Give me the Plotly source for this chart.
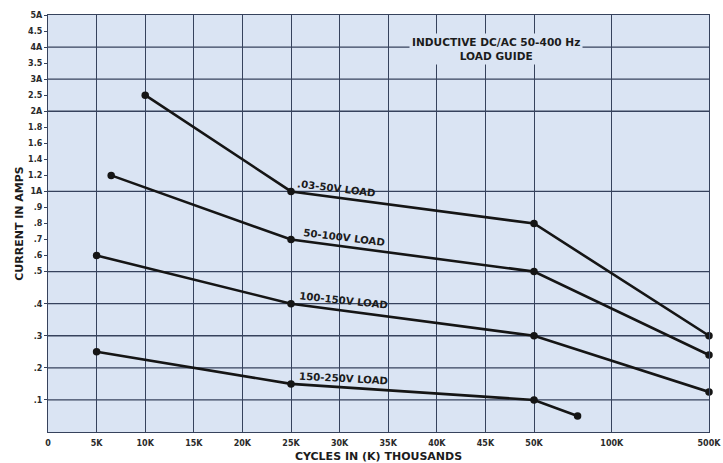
import numpy as np
import plotly.graph_objects as go

# ---- data ----
SERIES_NAMES = [".03-50V LOAD", "50-100V LOAD", "100-150V LOAD", "150-250V LOAD"]
S1_X = [10000, 25000, 50000, 500000]
S1_Y = [2.5, 1.0, 0.8, 0.3]
S2_X = [6500, 25000, 50000, 500000]
S2_Y = [1.2, 0.7, 0.5, 0.24]
S3_X = [5000, 25000, 50000, 500000]
S3_Y = [0.6, 0.4, 0.3, 0.125]
S4_X = [5000, 25000, 50000, 78000]
S4_Y = [0.25, 0.15, 0.1, 0.05]

X_TICK_VALS = [0, 5000, 10000, 15000, 20000, 25000, 30000, 35000, 40000, 45000, 50000, 100000, 500000]
X_TICK_TEXT = ["0", "5K", "10K", "15K", "20K", "25K", "30K", "35K", "40K", "45K", "50K", "100K", "500K"]
Y_TICK_VALS = [0.1, 0.2, 0.3, 0.4, 0.5, 0.6, 0.7, 0.8, 0.9, 1.0, 1.2, 1.4, 1.6, 1.8, 2.0, 2.5, 3.0, 3.5, 4.0, 4.5, 5.0]
Y_TICK_TEXT = [".1", ".2", ".3", ".4", ".5", ".6", ".7", ".8", ".9", "1A", "1.2", "1.4", "1.6", "1.8", "2A", "2.5", "3A", "3.5", "4A", "4.5", "5A"]
Y_GRID = [0.1, 0.2, 0.3, 0.4, 0.5, 1.0, 2.0, 3.0, 4.0]

# ---- piecewise scales (as printed on the chart paper) ----
XB_VAL = [0, 50000, 100000, 500000]
XB_POS = [0, 10, 11.6, 13.6]
YB_VAL = [0, 0.5, 0.6, 0.7, 0.8, 0.9, 1.0, 1.2, 1.4, 1.6, 1.8, 2.0, 2.5, 3.0, 3.5, 4.0, 4.5, 5.0]
YB_POS = [0, 10, 11, 12, 13, 14, 15, 16, 17, 18, 19, 20, 21, 22, 23, 24, 25, 26]

def xp(v):
    return np.interp(v, XB_VAL, XB_POS)

def yp(v):
    return np.interp(v, YB_VAL, YB_POS)

PLOT_BG = "#dae4f3"
GRID_C = "#36425c"
INK = "#1c1c1c"
FONT = "DejaVu Sans, Liberation Sans, sans-serif"

fig = go.Figure()
for xs, ys, name in zip([S1_X, S2_X, S3_X, S4_X], [S1_Y, S2_Y, S3_Y, S4_Y], SERIES_NAMES):
    fig.add_trace(go.Scatter(
        x=xp(xs), y=yp(ys), mode="lines+markers", name=name,
        line=dict(color="#151515", width=2.6),
        marker=dict(color="#151515", size=7.5),
        showlegend=False, hoverinfo="skip", cliponaxis=False,
    ))

for g in Y_GRID:
    fig.add_hline(y=float(yp(g)), line=dict(color=GRID_C, width=1.3), layer="below")

# curve labels: (x value, y axis position, angle)
LABELS = [
    (SERIES_NAMES[0], 29700, 15.2, 7),
    (SERIES_NAMES[1], 30400, 12.1, 7),
    (SERIES_NAMES[2], 30400, 8.2, 6),
    (SERIES_NAMES[3], 30400, 3.35, 3),
]
for txt, xv, ypos, ang in LABELS:
    fig.add_annotation(x=float(xp(xv)), y=ypos, text=txt, showarrow=False,
                       textangle=ang,
                       font=dict(family=FONT, size=10.2, color=INK, weight="bold"))

fig.add_annotation(x=float(xp(46100)), y=23.85,
                   text="INDUCTIVE DC/AC 50-400 Hz<br>LOAD GUIDE",
                   showarrow=False, bgcolor=PLOT_BG, borderpad=2,
                   font=dict(family=FONT, size=10.6, color=INK, weight="bold"))

fig.update_layout(
    width=723, height=463,
    margin=dict(l=48, r=14, t=15, b=31),
    paper_bgcolor="white", plot_bgcolor=PLOT_BG,
    font=dict(family=FONT, size=9, color=INK),
    xaxis=dict(
        range=[0, 13.6], tickmode="array", automargin=False,
        tickvals=[float(v) for v in xp(X_TICK_VALS)], ticktext=X_TICK_TEXT,
        showgrid=True, gridcolor=GRID_C, gridwidth=1.2,
        showline=True, linecolor=GRID_C, linewidth=1.3, mirror=True,
        zeroline=False, ticks="", ticklabelstandoff=3,
        tickfont=dict(family=FONT, size=8, color="#2a2a2a", weight="bold"),
        title=dict(text="CYCLES IN (K) THOUSANDS", standoff=5,
                   font=dict(family=FONT, size=11, color=INK, weight="bold")),
    ),
    yaxis=dict(
        range=[0, 26], tickmode="array", automargin=False,
        tickvals=[float(v) for v in yp(Y_TICK_VALS)], ticktext=Y_TICK_TEXT,
        showgrid=False,
        showline=True, linecolor=GRID_C, linewidth=1.3, mirror=True,
        zeroline=False, ticks="outside", ticklen=3, tickcolor=GRID_C,
        tickfont=dict(family=FONT, size=8, color="#2a2a2a", weight="bold"),
        title=dict(text="CURRENT IN AMPS", standoff=2,
                   font=dict(family=FONT, size=11, color=INK, weight="bold")),
    ),
)

# remove the page's default body margin so the 723x463 figure fills the window exactly
fig.write_html("out.html", config={"displayModeBar": False},
               post_script="document.body.style.margin='0px';document.body.style.overflow='hidden';")
